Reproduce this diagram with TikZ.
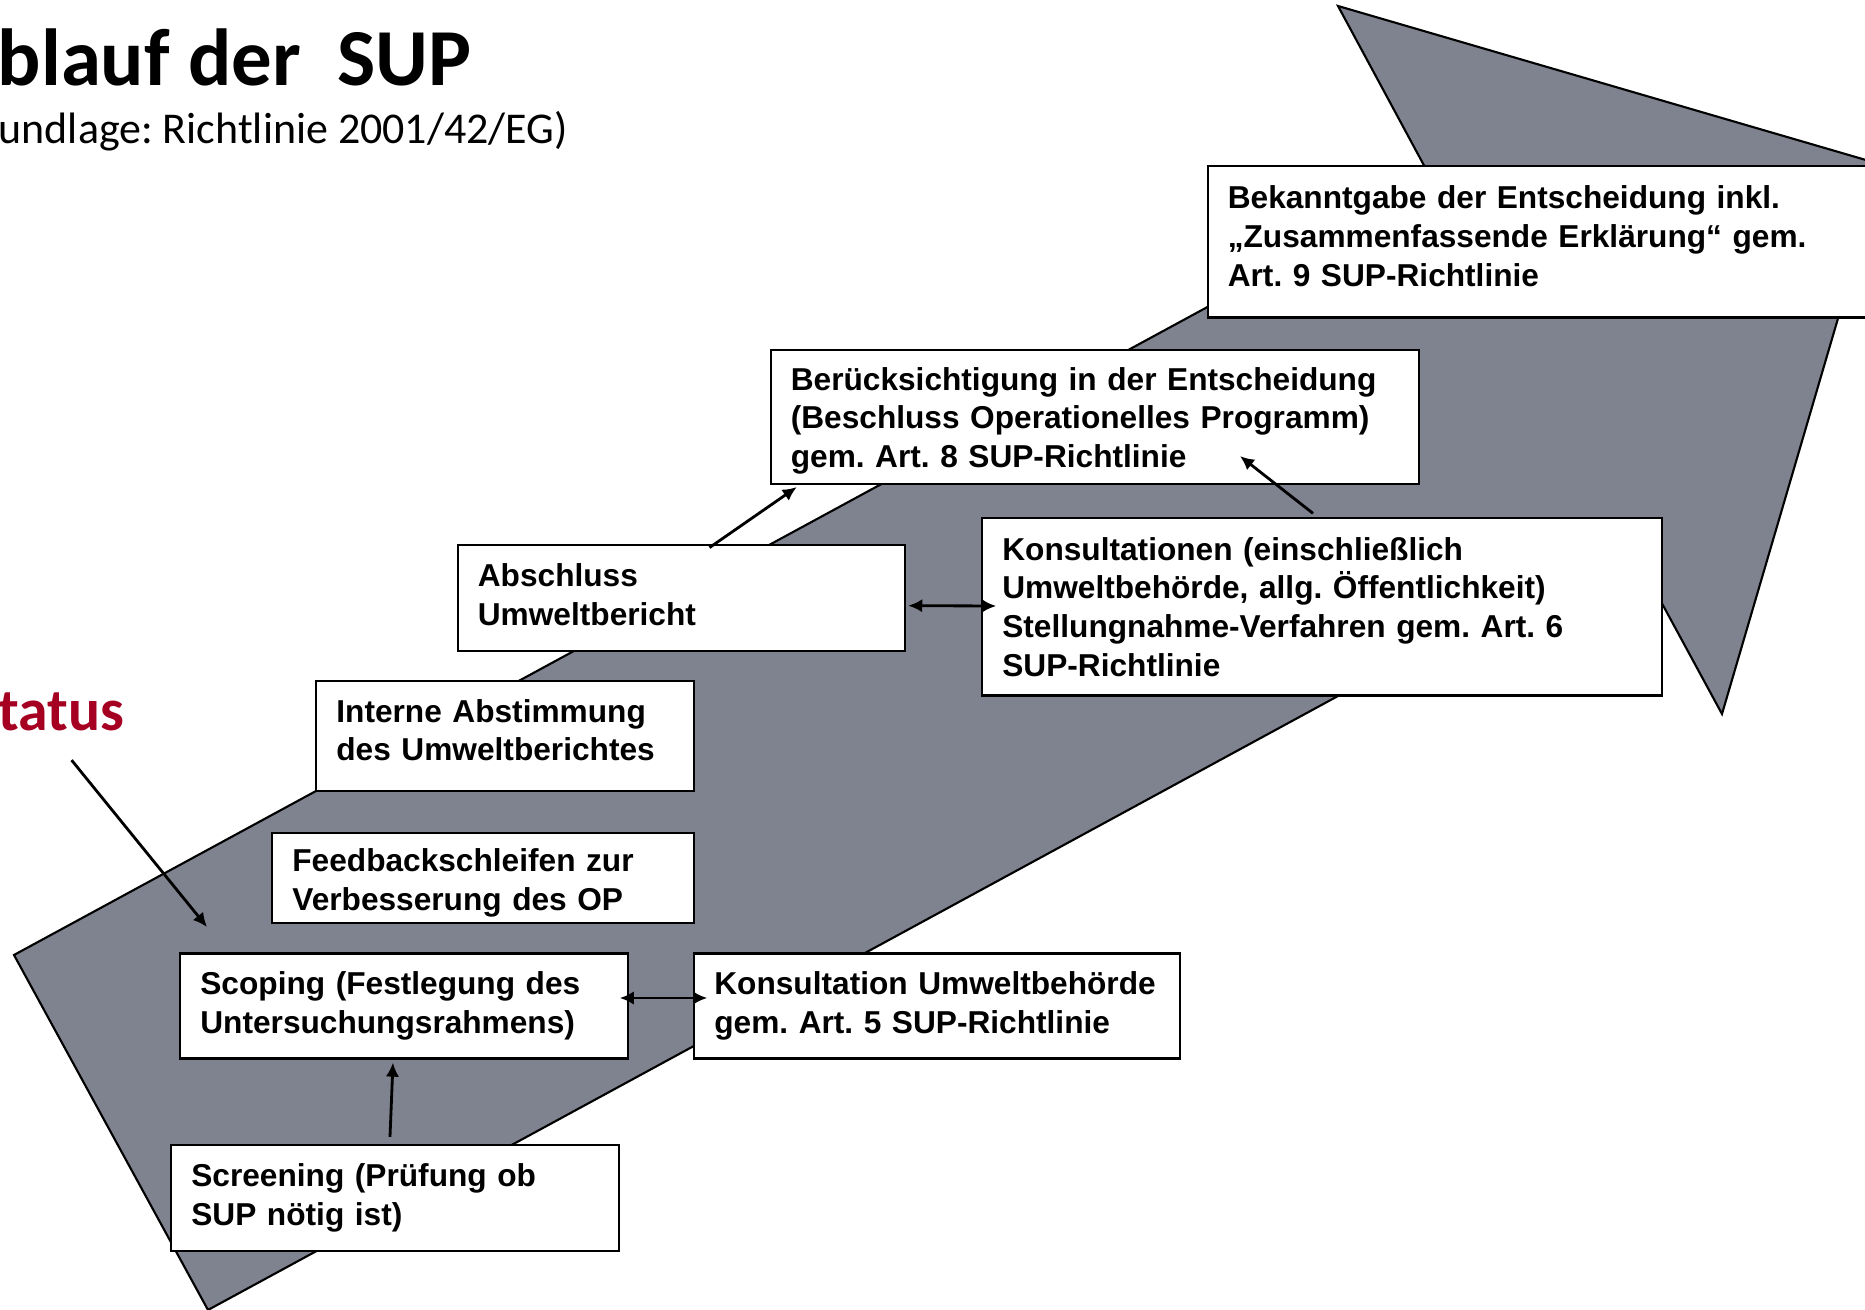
\documentclass[tikz,border=0pt]{standalone}
\usepackage{fontspec}
\setmainfont{Liberation Sans}
\newfontfamily\calibri{Carlito}
\usetikzlibrary{arrows.meta}
\frenchspacing

\definecolor{arrowgray}{RGB}{127,131,143}
\definecolor{supred}{RGB}{165,0,33}

\tikzset{
  stepbox/.style={draw,line width=0.6pt,fill=white,align=left,inner xsep=0.2cm,inner ysep=0pt,
    font=\fontsize{9}{11}\selectfont\bfseries},
  conn/.style={line width=0.8pt,-{Latex[length=4pt,width=3.8pt]}},
  bothconn/.style={line width=0.8pt,{Latex[length=4pt,width=3.8pt]}-{Latex[length=4pt,width=3.8pt]}},
}

\begin{document}
\begin{tikzpicture}[x=0.01cm,y=-0.01cm]
\useasboundingbox (0,0) rectangle (1865,1310);

\begin{scope}
\coordinate (t1) at (14,955);
\coordinate (t2) at (208,1310);
\coordinate (u) at (1434,184);
\coordinate (b1) at (1338,6);
\coordinate (p) at (1883,165);
\coordinate (b2) at (1722,714);
\coordinate (l) at (1627,539);
\draw[line width=0.6pt,fill=arrowgray] (t1) -- (u) -- (b1) -- (p) -- (b2) -- (l) -- (t2) -- cycle;
\end{scope}

\node[anchor=base west,inner sep=0pt,font=\calibri\fontsize{23}{28}\selectfont\bfseries] (title) at (-3,86) {blauf der\ \ SUP};
\node[anchor=base west,inner sep=0pt,font=\calibri\fontsize{12.5}{15}\selectfont] (sub) at (-2,144) {undlage: Richtlinie 2001/42/EG)};
\node[anchor=base west,inner sep=0pt,text=supred,font=\calibri\fontsize{17}{20}\selectfont\bfseries] (status) at (-2,731) {tatus};

\node[stepbox,text width=6.32cm,minimum height=1.51cm] (bekannt) at (1544,242) {Bekanntgabe der Entscheidung inkl.\\„Zusammenfassende Erklärung“ gem.\\Art. 9 SUP-Richtlinie\rule[-3.4pt]{0pt}{0pt}};
\node[stepbox,text width=6.08cm,minimum height=1.34cm] (berueck) at (1095,417) {\rule{0pt}{8.6pt}Berücksichtigung in der Entscheidung\\(Beschluss Operationelles Programm)\\gem. Art. 8 SUP-Richtlinie};
\node[stepbox,text width=6.39cm,minimum height=1.77cm] (kons2) at (1322,607) {Konsultationen (einschließlich\\Umweltbehörde, allg. Öffentlichkeit)\\Stellungnahme-Verfahren gem. Art. 6\\SUP-Richtlinie};
\node[stepbox,text width=4.07cm,minimum height=1.06cm] (absch) at (681.5,597.7) {Abschluss\\Umweltbericht\rule[-1.7pt]{0pt}{0pt}};
\node[stepbox,text width=3.37cm,minimum height=1.10cm] (intern) at (505,736) {Interne Abstimmung\\des Umweltberichtes\rule[-3.4pt]{0pt}{0pt}};
\node[stepbox,text width=3.81cm,minimum height=0.90cm] (feedb) at (483,878) {\rule{0pt}{9.3pt}Feedbackschleifen zur\\Verbesserung des OP};
\node[stepbox,text width=4.07cm,minimum height=1.05cm] (scope) at (404,1006) {Scoping (Festlegung des\\Untersuchungsrahmens)};
\node[stepbox,text width=4.45cm,minimum height=1.05cm] (kons1) at (937,1006) {Konsultation Umweltbehörde\\gem. Art. 5 SUP-Richtlinie};
\node[stepbox,text width=4.07cm,minimum height=1.06cm] (screen) at (395,1198) {Screening (Prüfung ob\\SUP nötig ist)};

\draw[conn] ([shift={(-5,-7)}]screen.north) -- ([shift={(-11,3)}]scope.south);
\draw[bothconn] ([shift={(-9,-8)}]scope.east) -- ([shift={(14,-8)}]kons1.west);
\draw[bothconn] ([shift={(2,8)}]absch.east) -- ([shift={(15,-1)}]kons2.west);
\draw[conn] ([shift={(28,4)}]absch.north) -- ([shift={(27,2)}]berueck.south west);
\draw[conn] ([shift={(-9,-4)}]kons2.north) -- ([shift={(145,-29)}]berueck.south);
\coordinate (pin) at (207,927);
\draw[conn] ([shift={(10,28)}]status.south) -- (pin);

\end{tikzpicture}
\end{document}
